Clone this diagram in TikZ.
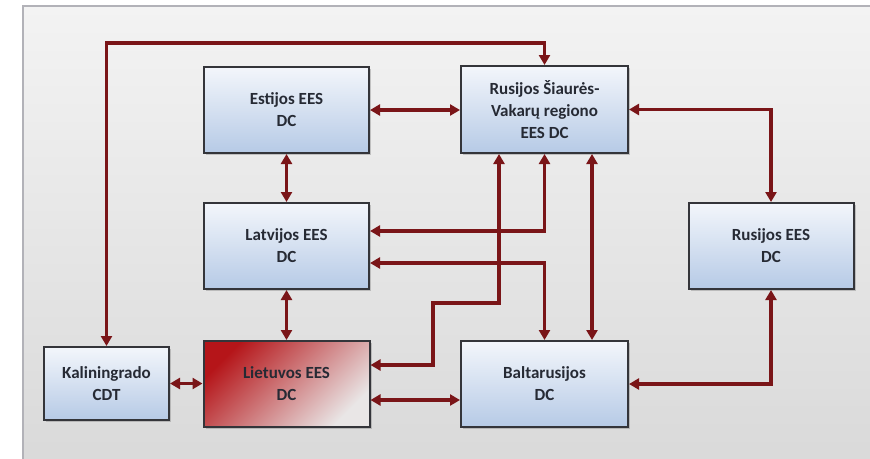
\documentclass[tikz,border=0pt]{standalone}
\usepackage{fontspec}
\setmainfont{Carlito}
\usetikzlibrary{arrows.meta,shadows}

\definecolor{wire}{HTML}{7A1518}
\definecolor{boxline}{HTML}{34353A}
\definecolor{boxtop}{HTML}{F3F6FB}
\definecolor{boxbottom}{HTML}{B6CAE6}
\definecolor{labeltext}{HTML}{262A34}
\definecolor{panelline}{HTML}{B2B2B8}
\definecolor{paneltop}{HTML}{F3F3F3}
\definecolor{panelbottom}{HTML}{D9D9D9}
\definecolor{ltred}{HTML}{B51519}
\definecolor{ltmid}{HTML}{D57F82}
\definecolor{ltlight}{HTML}{E9E6E6}

\tikzset{
  unit/.style={draw=boxline, line width=2pt, inner sep=0pt, align=center,
    text=labeltext, font=\bfseries\fontsize{17}{22}\selectfont,
    drop shadow={shadow xshift=2pt, shadow yshift=-2pt, opacity=0.4},
    top color=boxtop, bottom color=boxbottom},
  homeunit/.style={unit, top color=ltred, middle color=ltmid,
    bottom color=ltlight, shading angle=45},
  conn/.style={draw=wire, line width=3.6pt,
    {Triangle[length=10pt,width=11pt]}-{Triangle[length=10pt,width=11pt]}},
}

\begin{document}
\begin{tikzpicture}[x=1pt,y=-1pt]
  % page and backdrop panel
  \fill[white] (0,0) rectangle (870,458);
  \useasboundingbox (0,0) rectangle (870,458);
  \fill[panelbottom] (23,6) rectangle (880,468);
  \shade[top color=paneltop, bottom color=panelbottom] (23,6) rectangle (880,468);
  \draw[panelline, line width=1.5pt] (880,6) -- (23,6) -- (23,468);

  % dispatch centres
  \node[unit, minimum width=165pt, minimum height=86pt] (est) at (286.5,110) {Estijos EES\\DC};
  \node[unit, minimum width=167pt, minimum height=87pt] (rsv) at (544.5,109.5) {Rusijos Šiaurės-\\Vakarų regiono\\EES DC};
  \node[unit, minimum width=165pt, minimum height=86pt] (lat) at (286.5,246) {Latvijos EES\\DC};
  \node[unit, minimum width=165pt, minimum height=86pt] (rus) at (771,246) {Rusijos EES\\DC};
  \node[unit, minimum width=125pt, minimum height=73pt] (kal) at (106.5,383.5) {Kaliningrado\\CDT};
  \node[homeunit, minimum width=166pt, minimum height=86pt] (lie) at (286.5,384) {Lietuvos EES\\DC};
  \node[unit, minimum width=167pt, minimum height=86pt] (bal) at (544.5,384) {Baltarusijos\\DC};

  % bend points of the routed links
  \coordinate (ytop) at (0,43);
  \coordinate (ylatA) at (0,231);
  \coordinate (ylatB) at (0,263);
  \coordinate (rA) at (499,303);
  \coordinate (rB) at (433,303);
  \coordinate (rC) at (433,365);
  \coordinate (xr) at (592,0);
  \coordinate (ybal) at (0,400);

  % links
  \draw[conn] (kal.north) |- (rsv.north |- ytop) -- (rsv.north);
  \draw[conn] (est.east) -- (est.east -| rsv.west);
  \draw[conn] (rsv.east) -| (rus.north);
  \draw[conn] (est.south) -- (lat.north);
  \draw[conn] (lat.south) -- (lie.north);
  \draw[conn] (kal.east) -- (kal.east -| lie.west);
  \draw[conn] (lie.east |- ybal) -- (bal.west |- ybal);
  \draw[conn] (rsv.south) |- (lat.east |- ylatA);
  \draw[conn] (lat.east |- ylatB) -| (bal.north);
  \draw[conn] (rsv.south -| rA) -- (rA) -- (rB) -- (rC) -- (rC -| lie.east);
  \draw[conn] (rsv.south -| xr) -- (bal.north -| xr);
  \draw[conn] (rus.south) |- (bal.east);
\end{tikzpicture}
\end{document}
